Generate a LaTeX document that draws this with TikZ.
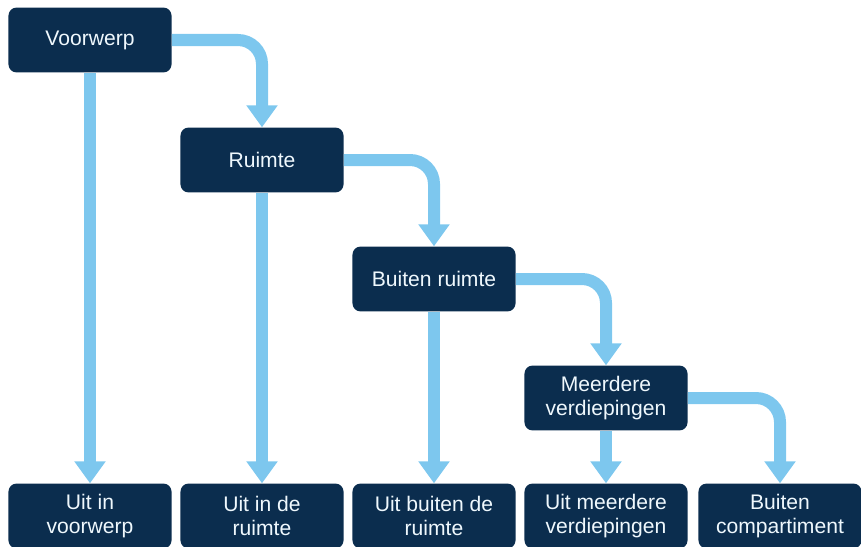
\documentclass[tikz,border=0pt]{standalone}
\usepackage{fontspec}
\setmainfont{Liberation Sans}
\usepackage{tikz}
\usetikzlibrary{arrows.meta, positioning}

\definecolor{navy}{HTML}{0B2D4E}
\definecolor{skyblue}{HTML}{7DC7EE}

\begin{document}
\begin{tikzpicture}[x=0.025cm, y=-0.025cm,
    box/.style={fill=navy, rounded corners=0.2cm, text=white!88!skyblue, inner sep=0pt,
        minimum width=4.075cm, minimum height=1.62cm, align=center,
        font=\fontsize{15}{17}\selectfont},
    flow/.style={draw=skyblue, line width=0.3cm, rounded corners=0.6cm,
        -{Triangle[length=0.55cm, width=0.75cm]}}]
    \useasboundingbox (0,0) rectangle (861,546);

    % staircase of cases
    \node [box] (voorwerp) at (90,40) {Voorwerp};
    \node [box] (ruimte) at (262,160) {Ruimte};
    \node [box] (buiten) at (434,279) {Buiten ruimte};
    \node [box] (meerdere) at (606,398) {Meerdere\\verdiepingen};

    % outcomes
    \node [box] (uitvoorwerp) at (90,516) {Uit in\\voorwerp};
    \node [box] (uitruimte) at (262,516) {Uit in de\\ruimte};
    \node [box] (uitbuiten) at (434,516) {Uit buiten de\\ruimte};
    \node [box] (uitmeerdere) at (606,516) {Uit meerdere\\verdiepingen};
    \node [box] (compartiment) at (780,516) {Buiten\\compartiment};

    \draw[flow] (voorwerp.east) -| (ruimte.north);
    \draw[flow] (ruimte.east) -| (buiten.north);
    \draw[flow] (buiten.east) -| (meerdere.north);
    \draw[flow] (meerdere.east) -| (compartiment.north);

    \draw[flow] (voorwerp) -- (uitvoorwerp);
    \draw[flow] (ruimte) -- (uitruimte);
    \draw[flow] (buiten) -- (uitbuiten);
    \draw[flow] (meerdere) -- (uitmeerdere);
\end{tikzpicture}
\end{document}
